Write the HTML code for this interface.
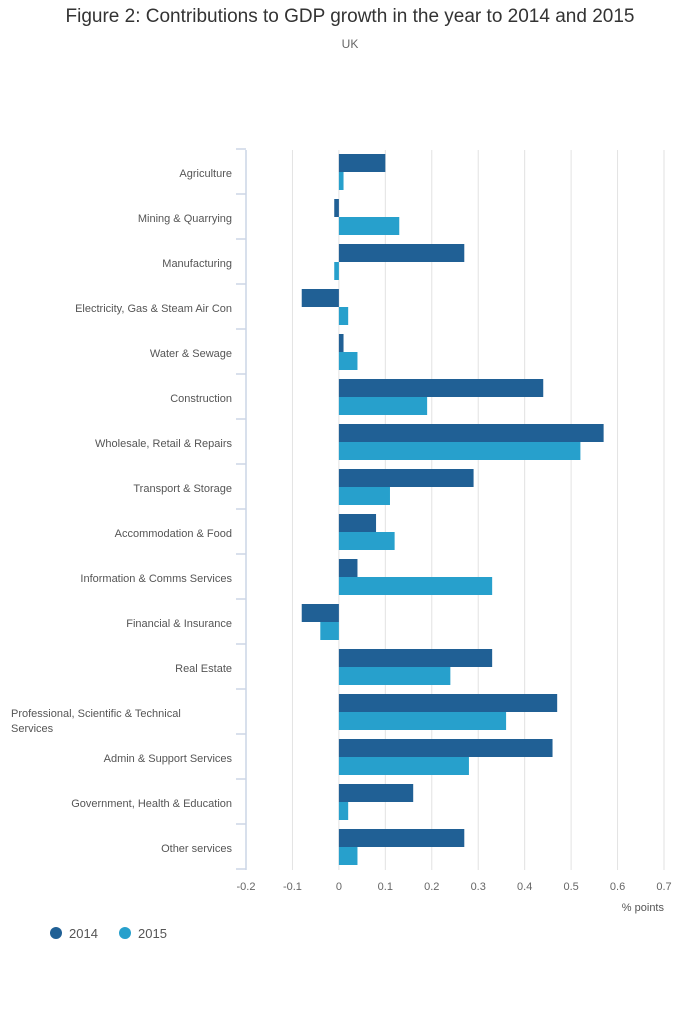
<!DOCTYPE html>
<html><head><meta charset="utf-8">
<style>
body{margin:0;background:#fff;font-family:"Liberation Sans",sans-serif;}
#wrap{position:relative;width:700px;height:1020px;}
.t{position:absolute;white-space:nowrap;}
</style></head>
<body>
<div id="wrap">
<div class="t" style="left:0;width:700px;text-align:center;top:6px;font-size:19px;color:#333;">Figure 2: Contributions to GDP growth in the year to 2014 and 2015</div>
<div class="t" style="left:0;width:700px;text-align:center;top:37px;font-size:12px;color:#666;">UK</div>
<svg id="chart" width="700" height="1020" style="position:absolute;left:0;top:0;font-family:'Liberation Sans',sans-serif;"></svg>
</div>
<script>
const categories=["Agriculture","Mining & Quarrying","Manufacturing","Electricity, Gas & Steam Air Con","Water & Sewage","Construction","Wholesale, Retail & Repairs","Transport & Storage","Accommodation & Food","Information & Comms Services","Financial & Insurance","Real Estate","Professional, Scientific & Technical Services","Admin & Support Services","Government, Health & Education","Other services"];
const values2014=[0.10,-0.01,0.27,-0.08,0.01,0.44,0.57,0.29,0.08,0.04,-0.08,0.33,0.47,0.46,0.16,0.27];
const values2015=[0.01,0.13,-0.01,0.02,0.04,0.19,0.52,0.11,0.12,0.33,-0.04,0.24,0.36,0.28,0.02,0.04];
const xTicks=[-0.2,-0.1,0,0.1,0.2,0.3,0.4,0.5,0.6,0.7];
const xTickLabels=["-0.2","-0.1","0","0.1","0.2","0.3","0.4","0.5","0.6","0.7"];

const svg=document.getElementById('chart');
const NS="http://www.w3.org/2000/svg";
const X0=246,X1=664,Y0=150,BAND=45;
const xMin=-0.2,xMax=0.7;
function xs(v){return X0+(v-xMin)/(xMax-xMin)*(X1-X0);}
function yb(i){return Y0+i*BAND;}
function mk(tag,attrs){const e=document.createElementNS(NS,tag);for(const k in attrs)e.setAttribute(k,attrs[k]);svg.appendChild(e);return e;}
const Y1=yb(categories.length);

xTicks.forEach((t,i)=>{
  if(i>0){const g=mk('line',{x1:xs(t),x2:xs(t),y1:Y0,y2:Y1,stroke:'#e2e2e2','stroke-width':1});
  
  }
  const tx=mk('text',{x:xs(t),y:Y1+20,'text-anchor':'middle','font-size':11,fill:'#666'});
  tx.textContent=xTickLabels[i];
  
  
});
const ax=mk('line',{x1:X0,x2:X0,y1:Y0,y2:Y1,stroke:'#ccd6e6','stroke-width':1.5});



categories.forEach((c,i)=>{
  const tk=mk('line',{x1:X0-10,x2:X0,y1:yb(i)-1,y2:yb(i)-1,stroke:'#ccd6e6','stroke-width':1.5});
  
  
  const b1=values2014[i],b2=values2015[i];
  const r1=mk('rect',{x:Math.min(xs(0),xs(b1)),y:yb(i)+4,width:Math.abs(xs(b1)-xs(0)),height:18,fill:'#206095'});
  
  
  const r2=mk('rect',{x:Math.min(xs(0),xs(b2)),y:yb(i)+22,width:Math.abs(xs(b2)-xs(0)),height:18,fill:'#27a0cc'});
  
  
  if(c.startsWith("Professional")){
    const l1=mk('text',{x:11,y:yb(i)+27,'font-size':11,fill:'#555'});l1.textContent="Professional, Scientific & Technical";
    
    
    const l2=mk('text',{x:11,y:yb(i)+42,'font-size':11,fill:'#555'});l2.textContent="Services";
    
    
  }else{
    const l=mk('text',{x:232,y:yb(i)+27,'text-anchor':'end','font-size':11,fill:'#555'});l.textContent=c;
    
    
  }
});
const tk=mk('line',{x1:X0-10,x2:X0,y1:Y1-1,y2:Y1-1,stroke:'#ccd6e6','stroke-width':1.5});


const at=mk('text',{x:664,y:Y1+41,'text-anchor':'end','font-size':11,fill:'#555'});at.textContent="% points";



[["2014","#206095",56],["2015","#27a0cc",125]].forEach(([lab,col,x])=>{
  const c=mk('circle',{cx:x,cy:933,r:6,fill:col});
  
  
  const t=mk('text',{x:x+13,y:938,'font-size':13,fill:'#555'});t.textContent=lab;
  
  
});
</script>
</body></html>
